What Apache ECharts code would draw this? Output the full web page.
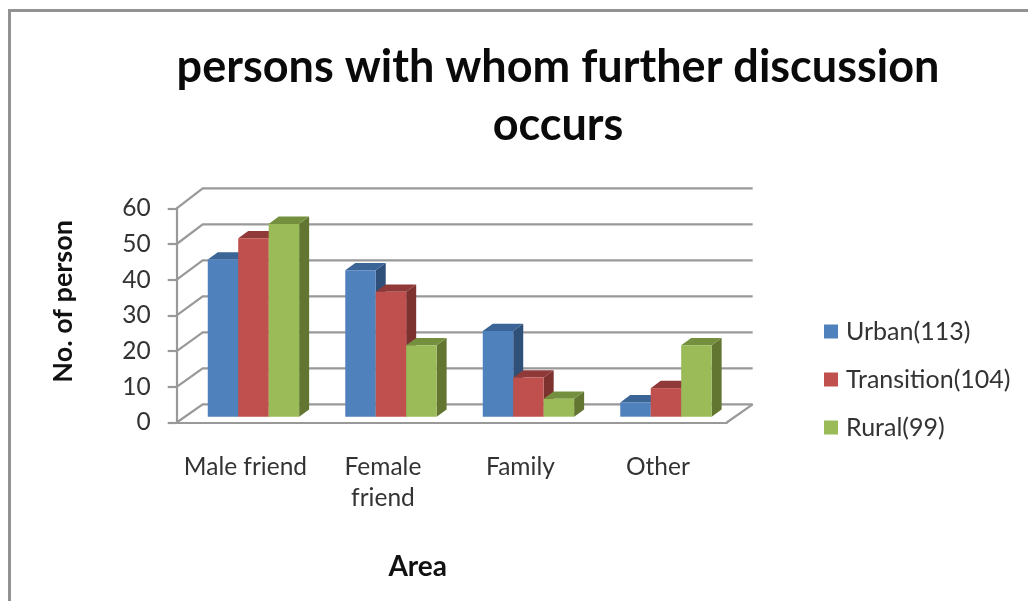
<!DOCTYPE html>
<html><head><meta charset="utf-8">
<style>html,body{margin:0;padding:0;background:#fff}#c{width:1028px;height:601px}</style>
<script src="https://cdn.jsdelivr.net/npm/echarts@6/dist/echarts.min.js"></script>
</head><body><div id="c"></div>
<script>
const categories = ['Male friend', 'Female\nfriend', 'Family', 'Other'];
const urban = [44, 41, 24, 4];
const transition = [50, 35, 11, 8];
const rural = [54, 20, 5, 20];
const yTicks = [0, 10, 20, 30, 40, 50, 60];
const names = ['Urban(113)', 'Transition(104)', 'Rural(99)'];
const font = 'Lato';
const wallDepth = [26, -18.2], barOffset = [8, -5.8], barDepth = [10, -7.3];
const palette = [
  {front:'#4F81BD', top:'#3B6596', side:'#2F5079'},
  {front:'#C0504D', top:'#8F3A38', side:'#7E3230'},
  {front:'#9BBB59', top:'#74903F', side:'#627632'}
];
const gridColor = '#999999';
function wall(params, api){
  const v = api.value(1), band = api.size([1,0])[0];
  const c0 = api.coord([0, v]), c3 = api.coord([categories.length-1, v]);
  const lx = c0[0]-band/2, rx = c3[0]+band/2, y = c0[1];
  const by = y+wallDepth[1]-v*0.03;
  const kids = [{type:'polyline', shape:{points:[[lx,y],[lx+wallDepth[0],by],[rx+wallDepth[0],by]]},
    style:{stroke:gridColor, lineWidth:2.2, fill:null}}];
  if (v===0) kids.push({type:'line', shape:{x1:rx,y1:y,x2:rx+wallDepth[0],y2:by}, style:{stroke:gridColor,lineWidth:2.2}});
  return {type:'group', children:kids};
}
function bar3d(si){
  return function(params, api){
    const band = api.size([1,0])[0], w = band*0.2215;
    const top = api.coord([api.value(0), api.value(1)]), base = api.coord([api.value(0), 0]);
    const x0 = top[0]+barOffset[0]+(si-1.5)*w, x1 = x0+w;
    const yt = top[1]+barOffset[1], yb = base[1]+barOffset[1];
    const dx = barDepth[0], dy = barDepth[1], p = palette[si];
    return {type:'group', children:[
      {type:'polygon', shape:{points:[[x1,yt],[x1+dx,yt+dy],[x1+dx,yb+dy],[x1,yb]]}, style:{fill:p.side}},
      {type:'polygon', shape:{points:[[x0,yt],[x0+dx,yt+dy],[x1+dx,yt+dy],[x1,yt]]}, style:{fill:p.top}},
      {type:'rect', shape:{x:x0,y:yt,width:w,height:yb-yt}, style:{fill:p.front}}
    ]};
  };
}
const chart = echarts.init(document.getElementById('c'), null, {renderer:'canvas'});
const seriesVals = [urban, transition, rural];
chart.setOption({
  animation:false,
  backgroundColor:'#fff',
  title:{text:'persons with whom further discussion\noccurs', left:553, top:33, textAlign:'center',
    textStyle:{fontFamily:font,fontWeight:'bold',fontSize:45,lineHeight:58,color:'#0a0a0a'}},
  legend:{data:names, orient:'vertical', left:819, top:314, itemWidth:14, itemHeight:14, itemGap:23,
    icon:'rect', selectedMode:false,
    textStyle:{fontFamily:font,fontSize:25,color:'#333',padding:[0,0,0,3]}},
  grid:{left:176.7, right:301.3, top:208.3, bottom:178.5, containLabel:false},
  xAxis:{type:'category', data:categories, boundaryGap:true,
    axisTick:{show:false}, axisLine:{lineStyle:{color:gridColor,width:2.2}},
    axisLabel:{fontFamily:font,fontSize:24.5,color:'#333',margin:29,lineHeight:31,interval:0},
    name:'Area', nameLocation:'middle', nameGap:130,
    nameTextStyle:{fontFamily:font,fontWeight:'bold',fontSize:28,color:'#111',padding:[0,68,0,0]}},
  yAxis:{type:'value', min:0, max:60, interval:10, splitLine:{show:false},
    axisLine:{show:true,lineStyle:{color:gridColor,width:2.2}},
    axisTick:{show:true,length:9,lineStyle:{color:gridColor,width:2.2}},
    axisLabel:{fontFamily:font,fontSize:24.5,color:'#333',margin:26},
    name:'No. of person', nameLocation:'middle', nameGap:100, nameRotate:90,
    nameTextStyle:{fontFamily:font,fontWeight:'bold',fontSize:27,color:'#111',padding:[0,0,0,28]}},
  graphic:[{type:'polyline', z:-1, shape:{points:[[9.5,601],[9.5,10.5],[1028,10.5]]}, style:{stroke:'#929292',lineWidth:3,fill:null}}],
  series:[
    {type:'custom', name:'walls', silent:true, z:1, renderItem:wall, data:yTicks.map(v=>[0,v]), encode:{x:0,y:1}},
    ...names.map((n,si)=>({type:'custom', name:n, z:2+si, renderItem:bar3d(si), encode:{x:0,y:1},
      itemStyle:{color:palette[si].front},
      data:seriesVals[si].map((v,i)=>[i,v])}))
  ]
});
</script></body></html>
